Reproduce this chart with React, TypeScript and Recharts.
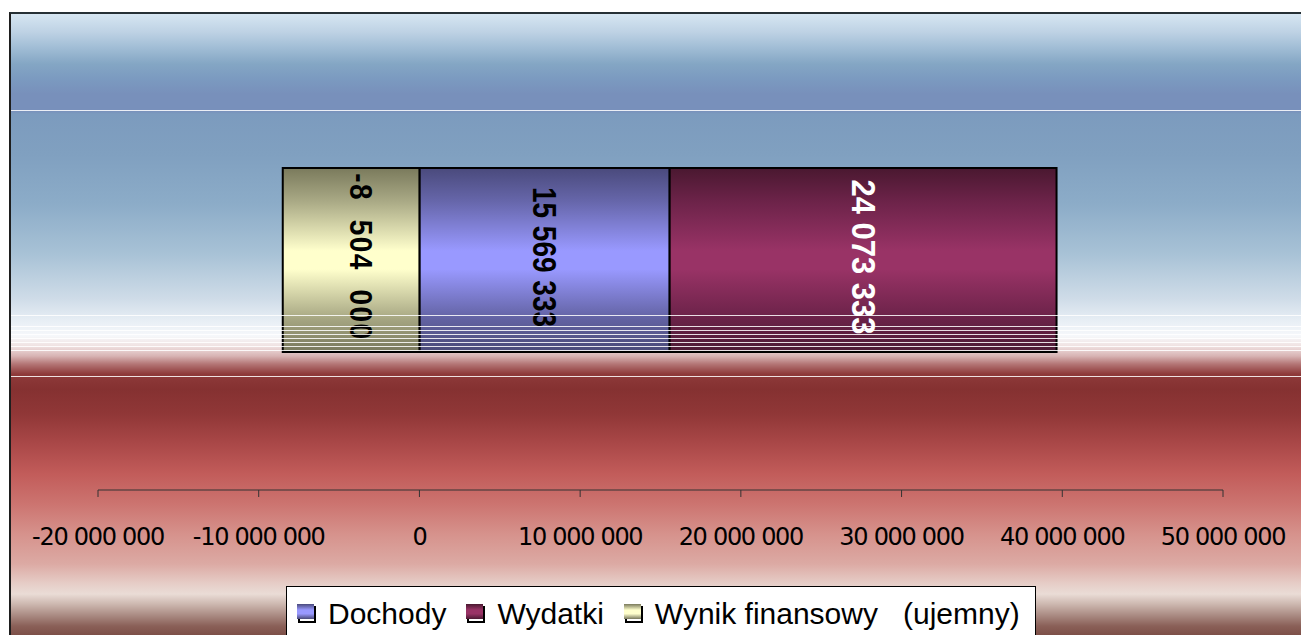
import React from 'react';
import { BarChart, Bar, XAxis, YAxis, LabelList } from 'recharts';

const categories = ['Budżet'];
const dochody = [15569333];
const wydatki = [24073333];
const wynik = [-8504000];
const xTicks = [-20000000, -10000000, 0, 10000000, 20000000, 30000000, 40000000, 50000000];
const seriesNames = ['Dochody', 'Wydatki', 'Wynik finansowy   (ujemny)'];

const data = categories.map((name, i) => ({
  name,
  dochody: dochody[i],
  wydatki: wydatki[i],
  wynik: wynik[i],
}));

// top / middle / bottom colours of the bar gradients
const GRADIENTS: Record<string, string[]> = {
  dochody: ['#4a4a7c', '#6666aa', '#9999ff', '#9999ff', '#6262a2', '#4a4a78'],
  wydatki: ['#4a1830', '#6c2349', '#993366', '#993366', '#6a2248', '#4c1a34'],
  wynik: ['#7a7a5c', '#a9a985', '#ffffcc', '#ffffcc', '#a6a682', '#78785c'],
};
const STOPS = [0, 0.18, 0.45, 0.55, 0.82, 1];

const fmt = (v: number, sep = ' ') => {
  const s = Math.abs(Math.round(v)).toString().replace(/\B(?=(\d{3})+(?!\d))/g, sep);
  return (v < 0 ? '-' : '') + s;
};

const AxisTick = ({ x, y, payload }: any) => (
  <text
    x={x}
    y={y + 46}
    textAnchor="middle"
    fontFamily="DejaVu Sans"
    fontSize={24}
    letterSpacing={-1.3}
    fill="#000"
  >
    {fmt(payload.value)}
  </text>
);

// rotated label reading top to bottom, slightly stretched like the original
const makeLabel =
  (color: string, size: number, stretch: number, spacing: number, sep: string, dx = 0) =>
  (props: any) => {
    const { x, y, width, height } = props;
    let value = props.value;
    if (Array.isArray(value)) value = value[1] - value[0];
    const cx = Number(x) + Number(width) / 2 + dx;
    const cy = Number(y) + Number(height) / 2 - 3;
    return (
      <text
        x={0}
        y={0}
        transform={`translate(${cx} ${cy}) rotate(90) scale(1 ${stretch})`}
        textAnchor="middle"
        dominantBaseline="central"
        fontFamily="Liberation Sans, Arial, sans-serif"
        fontSize={size}
        fontWeight="bold"
        letterSpacing={spacing}
        fill={color}
        style={{ whiteSpace: 'pre' }}
      >
        {fmt(Number(value), sep)}
      </text>
    );
  };

const bgGradient = `linear-gradient(to bottom,
  #d6e6f2 0px, #bed2e4 18px, #a2bed6 33px, #84a6c4 50px, #7b9ac0 65px, #7890bb 80px, #7890bb 97px,
  #7c9bbe 100px, #80a0c0 140px, #8cacc8 190px, #a8c2d6 240px, #cfdce8 285px, #e6edf4 305px,
  #f6f8fb 322px, #f0e2e2 332px, #d8b4b4 342px, #b47676 350px, #8e3a3a 360px, #853131 375px,
  #903737 400px, #aa4848 430px, #c25c5a 460px, #cc7470 490px, #d6928c 520px, #dcaaa4 550px,
  #e6cec8 570px, #eadcd6 580px, #cdb8b0 590px, #a88880 602px, #8a6058 612px, #7a4c44 623px)`;

const overlayLines = [110, 315, 326, 330, 334, 338, 342, 346, 350, 376];

const LegendMarker = ({ k }: { k: string }) => {
  const g = GRADIENTS[k];
  return (
    <div style={{ position: 'relative', width: 20, height: 20, marginRight: 11, flexShrink: 0 }}>
      <div
        style={{
          position: 'absolute',
          left: 1,
          top: 2,
          width: 18,
          height: 17,
          border: '2px solid #000',
          boxSizing: 'border-box',
          background: '#fff',
        }}
      />
      <div
        style={{
          position: 'absolute',
          left: 0,
          top: 0,
          width: 17,
          height: 15,
          background: `linear-gradient(to bottom, ${g[0]}, ${g[2]} 40%, ${g[3]} 65%, ${g[5]})`,
        }}
      />
    </div>
  );
};

export default function App() {
  const keys = ['dochody', 'wydatki', 'wynik'];
  return (
    <div style={{ position: 'absolute', left: 0, top: 0, width: 1301, height: 635, overflow: 'hidden', background: '#fff' }}>
      <div
        style={{
          position: 'absolute',
          left: 9,
          top: 12,
          width: 1310,
          height: 640,
          borderTop: '2px solid #263035',
          borderLeft: '2px solid #1e1e1e',
          background: bgGradient,
        }}
      />
      <div style={{ position: 'absolute', left: 0, top: 0 }}>
        <BarChart
          width={1301}
          height={635}
          data={data}
          layout="vertical"
          stackOffset="sign"
          barSize={184}
          margin={{ top: 30, right: 78, bottom: 95, left: 98 }}
        >
          <defs>
            {keys.map((k) => (
              <linearGradient key={k} id={`g-${k}`} x1="0" y1="0" x2="0" y2="1">
                {GRADIENTS[k].map((c, i) => (
                  <stop key={i} offset={STOPS[i]} stopColor={c} />
                ))}
              </linearGradient>
            ))}
          </defs>
          <XAxis
            type="number"
            domain={[-20000000, 50000000]}
            ticks={xTicks}
            interval={0}
            height={50}
            tickSize={7}
            stroke="#333"
            tickLine={{ stroke: '#333' }}
            axisLine={{ stroke: '#333' }}
            tick={<AxisTick />}
          />
          <YAxis type="category" dataKey="name" hide />
          <Bar dataKey="dochody" name={seriesNames[0]} stackId="a" fill="url(#g-dochody)" stroke="#000" strokeWidth={2} isAnimationActive={false}>
            <LabelList dataKey="dochody" content={makeLabel('#000', 28, 1.2, 0, ' ')} />
          </Bar>
          <Bar dataKey="wydatki" name={seriesNames[1]} stackId="a" fill="url(#g-wydatki)" stroke="#000" strokeWidth={2} isAnimationActive={false}>
            <LabelList dataKey="wydatki" content={makeLabel('#fff', 31, 1.08, 0, ' ')} />
          </Bar>
          <Bar dataKey="wynik" name={seriesNames[2]} stackId="a" fill="url(#g-wynik)" stroke="#000" strokeWidth={2} isAnimationActive={false}>
            <LabelList dataKey="wynik" content={makeLabel('#000', 28, 1.1, 1.5, '  ', 10)} />
          </Bar>
        </BarChart>
      </div>
      <svg width={1301} height={635} style={{ position: 'absolute', left: 0, top: 0, pointerEvents: 'none' }}>
        {overlayLines.map((y) => (
          <line key={y} x1={11} x2={1301} y1={y + 0.5} y2={y + 0.5} stroke="#fff" strokeOpacity={0.85} strokeWidth={1} />
        ))}
      </svg>
      <div
        style={{
          position: 'absolute',
          left: 286,
          top: 586,
          width: 750,
          height: 60,
          background: '#fff',
          border: '1px solid #000',
          display: 'flex',
          alignItems: 'flex-start',
          paddingLeft: 10,
          paddingTop: 11,
          boxSizing: 'border-box',
          fontFamily: 'Liberation Sans, Arial, sans-serif',
          fontSize: 30,
          lineHeight: '31px',
          color: '#000',
        }}
      >
        {keys.map((k, i) => (
          <div key={k} style={{ display: 'flex', alignItems: 'center', marginRight: 20 }}>
            <LegendMarker k={k} />
            <span style={{ whiteSpace: 'pre', letterSpacing: 0 }}>{seriesNames[i]}</span>
          </div>
        ))}
      </div>
    </div>
  );
}
